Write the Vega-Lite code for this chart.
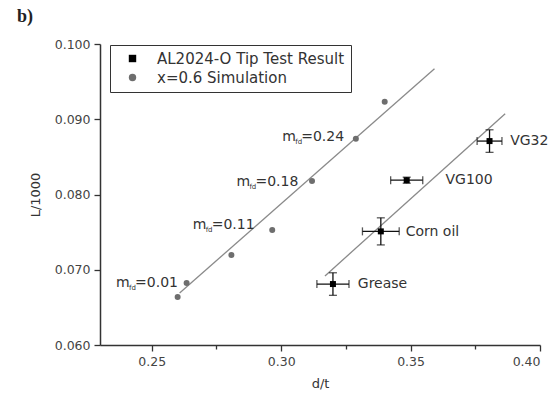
{
  "$schema": "https://vega.github.io/schema/vega-lite/v6.json",
  "width": 440,
  "height": 301,
  "autosize": "none",
  "padding": {"left": 100, "top": 44, "right": 16, "bottom": 49},
  "background": "white",
  "title": {"text": "b)", "anchor": "start", "frame": "group", "dx": -83, "offset": 12, "font": "Liberation Serif", "fontSize": 18, "fontWeight": "bold", "color": "#222"},
  "config": {
    "view": {"stroke": null},
    "font": "DejaVu Sans",
    "axis": {"grid": false, "domainColor": "#333", "domainWidth": 1.5, "tickColor": "#333", "tickWidth": 1.3, "labelFont": "DejaVu Sans", "labelFontSize": 12.5, "labelColor": "#444", "titleFont": "DejaVu Sans", "titleFontSize": 13, "titleFontWeight": "normal", "titleColor": "#333"}
  },
  "datasets": {
    "points": [
      {"series": "x=0.6 Simulation", "dt": 0.2600, "L": 0.06638},
      {"series": "x=0.6 Simulation", "dt": 0.26346, "L": 0.06824},
      {"series": "x=0.6 Simulation", "dt": 0.28077, "L": 0.07197},
      {"series": "x=0.6 Simulation", "dt": 0.29654, "L": 0.07529},
      {"series": "x=0.6 Simulation", "dt": 0.31192, "L": 0.08181},
      {"series": "x=0.6 Simulation", "dt": 0.32885, "L": 0.0874},
      {"series": "x=0.6 Simulation", "dt": 0.3400, "L": 0.09231},
      {"series": "AL2024-O Tip Test Result", "dt": 0.3805, "L": 0.0871},
      {"series": "AL2024-O Tip Test Result", "dt": 0.3485, "L": 0.0819},
      {"series": "AL2024-O Tip Test Result", "dt": 0.3385, "L": 0.0751},
      {"series": "AL2024-O Tip Test Result", "dt": 0.3200, "L": 0.0681}
    ],
    "tests": [
      {"name": "VG32", "dt": 0.3805, "L": 0.0871, "dtlo": 0.3757, "dthi": 0.3853, "Llo": 0.0856, "Lhi": 0.0886, "lx": 0.38846, "ly": 0.08713},
      {"name": "VG100", "dt": 0.3485, "L": 0.0819, "dtlo": 0.3423, "dthi": 0.3547, "Llo": 0.0815, "Lhi": 0.0823, "lx": 0.3635, "ly": 0.08194},
      {"name": "Corn oil", "dt": 0.3385, "L": 0.0751, "dtlo": 0.3314, "dthi": 0.3456, "Llo": 0.0733, "Lhi": 0.0769, "lx": 0.3481, "ly": 0.07503},
      {"name": "Grease", "dt": 0.3200, "L": 0.0681, "dtlo": 0.3138, "dthi": 0.3262, "Llo": 0.0666, "Lhi": 0.0696, "lx": 0.3296, "ly": 0.06811}
    ],
    "fits": [
      {"fit": "sim", "dt": 0.26077, "L": 0.06691},
      {"fit": "sim", "dt": 0.35923, "L": 0.0967},
      {"fit": "test", "dt": 0.31692, "L": 0.06918},
      {"fit": "test", "dt": 0.38654, "L": 0.09072}
    ],
    "mlabels": [
      {"val": "=0.24", "lx": 0.3004, "ly": 0.08766},
      {"val": "=0.18", "lx": 0.2827, "ly": 0.08168},
      {"val": "=0.11", "lx": 0.2658, "ly": 0.07596},
      {"val": "=0.01", "lx": 0.2362, "ly": 0.06824}
    ]
  },
  "encoding": {
    "x": {"type": "quantitative", "scale": {"domain": [0.23, 0.40], "nice": false, "zero": false}},
    "y": {"type": "quantitative", "scale": {"domain": [0.06, 0.10], "nice": false, "zero": false}}
  },
  "layer": [
    {
      "data": {"name": "fits"},
      "mark": {"type": "line", "color": "#8a8a8a", "strokeWidth": 1.3},
      "encoding": {
        "x": {"field": "dt", "type": "quantitative", "title": "d/t",
          "axis": {"values": [0.25, 0.275, 0.3, 0.325, 0.35, 0.375, 0.4],
            "labelExpr": "round(datum.value*1000) % 50 == 0 ? format(datum.value, '.2f') : ''",
            "tickSize": {"condition": {"test": "round(datum.value*1000) % 50 != 0", "value": 4}, "value": 6},
            "labelPadding": 4, "titlePadding": 10}},
        "y": {"field": "L", "type": "quantitative", "title": "L/1000",
          "axis": {"values": [0.06, 0.0625, 0.065, 0.0675, 0.07, 0.0725, 0.075, 0.0775, 0.08, 0.0825, 0.085, 0.0875, 0.09, 0.0925, 0.095, 0.0975, 0.1],
            "labelExpr": "round(datum.value*10000) % 50 == 0 ? format(datum.value, '.3f') : ''",
            "tickSize": {"condition": {"test": "round(datum.value*10000) % 50 != 0", "value": 4}, "value": 6},
            "labelPadding": 4, "titlePadding": 12}},
        "detail": {"field": "fit"}
      }
    },
    {
      "data": {"name": "tests"},
      "mark": {"type": "rule", "color": "#111", "strokeWidth": 1.3},
      "encoding": {"x": {"field": "dtlo", "type": "quantitative"}, "x2": {"field": "dthi"}, "y": {"field": "L", "type": "quantitative"}}
    },
    {
      "data": {"name": "tests"},
      "mark": {"type": "rule", "color": "#111", "strokeWidth": 1.3},
      "encoding": {"x": {"field": "dt", "type": "quantitative"}, "y": {"field": "Llo", "type": "quantitative"}, "y2": {"field": "Lhi"}}
    },
    {
      "data": {"name": "tests"},
      "mark": {"type": "tick", "orient": "vertical", "color": "#111", "size": 8, "thickness": 1.3},
      "encoding": {"x": {"field": "dtlo", "type": "quantitative"}, "y": {"field": "L", "type": "quantitative"}}
    },
    {
      "data": {"name": "tests"},
      "mark": {"type": "tick", "orient": "vertical", "color": "#111", "size": 8, "thickness": 1.3},
      "encoding": {"x": {"field": "dthi", "type": "quantitative"}, "y": {"field": "L", "type": "quantitative"}}
    },
    {
      "data": {"name": "tests"},
      "mark": {"type": "tick", "orient": "horizontal", "color": "#111", "size": 8, "thickness": 1.3},
      "encoding": {"x": {"field": "dt", "type": "quantitative"}, "y": {"field": "Llo", "type": "quantitative"}}
    },
    {
      "data": {"name": "tests"},
      "mark": {"type": "tick", "orient": "horizontal", "color": "#111", "size": 8, "thickness": 1.3},
      "encoding": {"x": {"field": "dt", "type": "quantitative"}, "y": {"field": "Lhi", "type": "quantitative"}}
    },
    {
      "data": {"name": "points"},
      "mark": {"type": "point", "filled": true, "opacity": 1, "size": 36},
      "encoding": {
        "x": {"field": "dt", "type": "quantitative"},
        "y": {"field": "L", "type": "quantitative"},
        "color": {"field": "series", "type": "nominal", "title": null,
          "scale": {"domain": ["AL2024-O Tip Test Result", "x=0.6 Simulation"], "range": ["#000000", "#6e6e6e"]},
          "legend": {"orient": "none", "legendX": 10, "legendY": 1, "strokeColor": "#333", "padding": 6, "symbolOffset": 9, "labelOffset": 17, "labelFont": "DejaVu Sans", "labelFontSize": 15, "labelColor": "#333", "labelLimit": 0, "symbolSize": 55, "rowPadding": 3, "fillColor": "white"}},
        "shape": {"field": "series", "type": "nominal", "title": null,
          "scale": {"domain": ["AL2024-O Tip Test Result", "x=0.6 Simulation"], "range": ["square", "circle"]}}
      }
    },
    {
      "data": {"name": "tests"},
      "mark": {"type": "text", "align": "left", "baseline": "middle", "fontSize": 14, "color": "#333"},
      "encoding": {"x": {"field": "lx", "type": "quantitative"}, "y": {"field": "ly", "type": "quantitative"}, "text": {"field": "name"}}
    },
    {
      "data": {"name": "mlabels"},
      "mark": {"type": "text", "align": "left", "baseline": "middle", "fontSize": 14, "color": "#333"},
      "encoding": {"x": {"field": "lx", "type": "quantitative"}, "y": {"field": "ly", "type": "quantitative"}, "text": {"value": "m"}}
    },
    {
      "data": {"name": "mlabels"},
      "mark": {"type": "text", "align": "left", "baseline": "middle", "fontSize": 7, "dx": 13, "dy": 5, "color": "#333"},
      "encoding": {"x": {"field": "lx", "type": "quantitative"}, "y": {"field": "ly", "type": "quantitative"}, "text": {"value": "fd"}}
    },
    {
      "data": {"name": "mlabels"},
      "mark": {"type": "text", "align": "left", "baseline": "middle", "fontSize": 14, "dx": 19, "color": "#333"},
      "encoding": {"x": {"field": "lx", "type": "quantitative"}, "y": {"field": "ly", "type": "quantitative"}, "text": {"field": "val"}}
    }
  ]
}
